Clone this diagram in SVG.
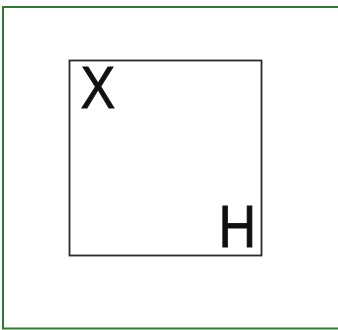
<svg xmlns="http://www.w3.org/2000/svg" width="338" height="330" viewBox="0 0 338 330">
<style>
.lbl{font-family:"Liberation Sans",Arial,sans-serif;font-size:60px;fill:#111;stroke:#111;stroke-width:0.8;}
</style>
<rect width="338" height="330" fill="#ffffff"/>
<rect id="frame" x="3" y="7" width="345" height="321.5" fill="none" stroke="#2f7a2f" stroke-width="2"/>
<g id="box">
<rect x="69.5" y="60.5" width="192" height="195" fill="#ffffff" stroke="#2a2a2a" stroke-width="1.8"/>
<text class="lbl" transform="translate(80.5,108) scale(0.87,1)">X</text>
<text class="lbl" transform="translate(218.5,247) scale(0.87,1)">H</text>
</g>
</svg>
